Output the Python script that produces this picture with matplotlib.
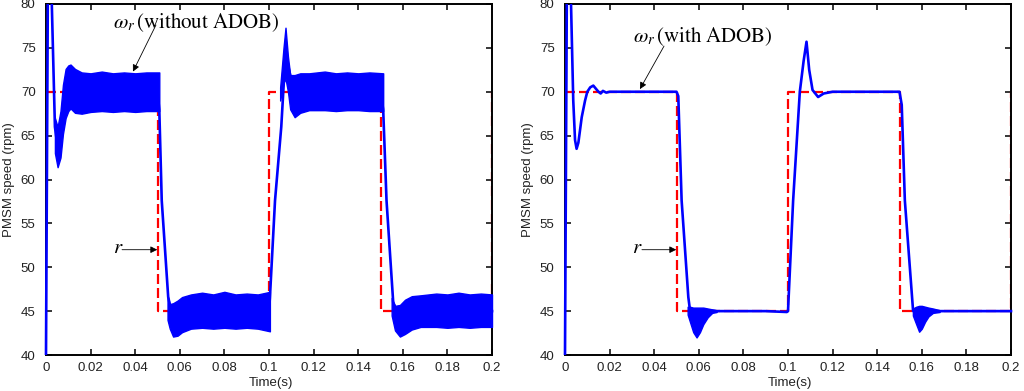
import matplotlib
matplotlib.use('Agg')
import matplotlib.pyplot as plt
from matplotlib.patches import Rectangle

plt.rcParams['font.family'] = ['Liberation Sans', 'DejaVu Sans']
plt.rcParams['mathtext.fontset'] = 'stix'

# ---------------- data ----------------
# reference speed r (step changes)
ref_t = [0, 0.05, 0.1, 0.15, 0.2]
ref_v = [70, 45, 70, 45, 70]

x_ticks = [0, 0.02, 0.04, 0.06, 0.08, 0.1, 0.12, 0.14, 0.16, 0.18, 0.2]
y_ticks = [40, 45, 50, 55, 60, 65, 70, 75, 80]

# left panel: omega_r without ADOB (centre trace)
a_t = [0, 0.0008, 0.0016, 0.0026, 0.0040, 0.0052, 0.0065, 0.0076, 0.0088, 0.0100,
       0.0130, 0.0200, 0.0500, 0.0508, 0.0519, 0.0548, 0.0570, 0.0650, 0.1000,
       0.1004, 0.1027, 0.1055, 0.1074, 0.1095, 0.1115, 0.1180, 0.1500, 0.1512,
       0.1527, 0.1557, 0.1587, 0.1650, 0.2000]
a_v = [40, 80, 90, 80, 66, 63.7, 65.0, 68.0, 69.8, 70.4,
       70.1, 69.9, 69.9, 68.0, 57.6, 46.6, 44.0, 45.0, 45.0,
       46.5, 57.6, 66.0, 74.4, 71.9, 69.5, 70.0, 70.0, 68.0,
       57.6, 46.0, 44.0, 45.0, 45.0]

# left panel: ripple envelopes (upper / lower)
a1_t = [0.0040, 0.0052, 0.0065, 0.0076, 0.0088, 0.0100, 0.0110, 0.0130, 0.0160,
        0.0200, 0.0250, 0.0300, 0.0350, 0.0400, 0.0450, 0.0508]
a1_hi = [67.0, 66.0, 67.8, 70.8, 72.6, 73.0, 73.1, 72.6, 72.2,
         72.1, 72.3, 72.1, 72.2, 72.1, 72.2, 72.2]
a1_lo = [63.0, 61.4, 62.5, 65.2, 67.0, 67.8, 68.1, 67.6, 67.5,
         67.7, 67.8, 67.7, 67.8, 67.7, 67.8, 67.8]

a2_t = [0.0545, 0.0555, 0.0570, 0.0590, 0.0610, 0.0650, 0.0700, 0.0750, 0.0800,
        0.0850, 0.0900, 0.0950, 0.1004]
a2_hi = [46.8, 45.8, 45.9, 46.2, 46.6, 46.9, 47.1, 46.9, 47.2, 46.9, 47.0, 46.9, 47.2]
a2_lo = [44.0, 43.0, 42.1, 42.2, 42.6, 43.0, 43.1, 43.0, 43.1, 43.0, 43.1, 43.0, 42.7]

a3_t = [0.1050, 0.1065, 0.1074, 0.1085, 0.1095, 0.1115, 0.1140, 0.1180, 0.1250,
        0.1300, 0.1350, 0.1400, 0.1450, 0.1512]
a3_hi = [70.5, 75.0, 77.3, 74.0, 71.9, 71.9, 72.1, 72.1, 72.3,
         72.1, 72.2, 72.1, 72.2, 72.1]
a3_lo = [69.0, 71.0, 71.5, 70.0, 68.0, 67.1, 67.6, 67.9, 67.9,
         67.8, 67.9, 67.9, 67.8, 67.8]

a4_t = [0.1550, 0.1565, 0.1587, 0.1610, 0.1640, 0.1680, 0.1750, 0.1800, 0.1850,
        0.1900, 0.1950, 0.2000]
a4_hi = [46.5, 45.6, 45.7, 46.3, 46.7, 46.8, 47.0, 46.9, 47.1, 46.9, 47.0, 46.9]
a4_lo = [44.5, 42.8, 42.1, 42.4, 42.9, 43.2, 43.2, 43.1, 43.2, 43.1, 43.2, 43.2]

# right panel: omega_r with ADOB (centre trace)
b_t = [0, 0.0008, 0.0015, 0.0027, 0.0037, 0.0045, 0.0052, 0.0060, 0.0075, 0.0090,
       0.0100, 0.0113, 0.0127, 0.0140, 0.0150, 0.0160, 0.0170, 0.0185, 0.0200,
       0.0300, 0.0400, 0.0500, 0.0508, 0.0523, 0.0553, 0.0560, 0.0680, 0.0800,
       0.0900, 0.0995, 0.1000, 0.1023, 0.1053, 0.1070, 0.1083, 0.1095, 0.1110,
       0.1135, 0.1160, 0.1200, 0.1300, 0.1400, 0.1500, 0.1510, 0.1524, 0.1561,
       0.1570, 0.1680, 0.1800, 0.1900, 0.2000]
b_v = [40, 80, 88, 80, 69.0, 64.5, 63.5, 64.2, 67.1, 69.0,
       70.0, 70.5, 70.7, 70.3, 70.0, 69.8, 70.1, 69.9, 70.0,
       70.0, 70.0, 70.0, 69.5, 57.6, 46.6, 45.2, 45.0, 45.0,
       45.0, 44.9, 45.0, 57.6, 70.0, 73.5, 75.7, 72.5, 70.2,
       69.4, 69.8, 70.0, 70.0, 70.0, 70.0, 68.5, 57.6, 45.0,
       45.2, 45.0, 45.0, 45.0, 45.0]

# right panel: ripple envelopes after the down steps
b1_t = [0.0550, 0.0560, 0.0575, 0.0590, 0.0605, 0.0620, 0.0640, 0.0660, 0.0680]
b1_hi = [45.5, 45.5, 45.4, 45.4, 45.4, 45.4, 45.3, 45.2, 45.1]
b1_lo = [44.6, 43.8, 42.6, 42.0, 42.6, 43.5, 44.3, 44.8, 44.9]

b2_t = [0.1560, 0.1575, 0.1588, 0.1600, 0.1615, 0.1630, 0.1650, 0.1680]
b2_hi = [45.3, 45.5, 45.6, 45.6, 45.5, 45.4, 45.3, 45.1]
b2_lo = [44.5, 43.5, 42.65, 43.0, 43.8, 44.4, 44.8, 44.9]

# ---------------- figure ----------------
fig = plt.figure(figsize=(10.24, 3.91), dpi=100)
ax1 = fig.add_axes([46 / 1024, 36 / 391, 446 / 1024, 351 / 391])
ax2 = fig.add_axes([565 / 1024, 36 / 391, 446 / 1024, 351 / 391])

BLUE = '#0000ff'
RED = '#ff0000'


def draw(ax, t, v, bands, label, txt_xy, arr_from, arr_to, r_xy, r_from, r_to):
    clip = Rectangle((-0.006, 0), 1.012, 1, transform=ax.transAxes)
    ax.plot(ref_t, ref_v, color=RED, lw=1.6, ls=(0, (4.5, 1.8)),
            drawstyle='steps-post', zorder=2)
    for bt, hi, lo in bands:
        fb = ax.fill_between(bt, lo, hi, color=BLUE, lw=1.0, zorder=3)
        fb.set_clip_path(clip)
    ln, = ax.plot(t, v, color=BLUE, lw=1.9, zorder=3)
    ln.set_clip_path(clip)

    ax.set_xlim(0, 0.2)
    ax.set_ylim(40, 80)
    ax.set_xticks(x_ticks)
    ax.set_xticklabels(['%g' % x for x in x_ticks])
    ax.set_yticks(y_ticks)
    ax.tick_params(direction='in', top=True, right=True, length=4, width=1.1,
                   labelsize=9.5, labelcolor='#222222')
    ax.tick_params(axis='x', pad=5)
    ax.tick_params(axis='y', pad=7.5)
    for s in ax.spines.values():
        s.set_linewidth(1.4)
    ax.set_ylabel('PMSM speed (rpm)', fontsize=9.5, color='#222222')
    ax.yaxis.set_label_coords(-0.07, 0.5)
    ax.set_xlabel('Time(s)', fontsize=9.5, color='#222222')
    ax.xaxis.set_label_coords(0.505, -0.063)

    ax.text(txt_xy[0], txt_xy[1], label, fontsize=15, ha='left', va='baseline')
    ax.annotate('', xy=arr_to, xytext=arr_from,
                arrowprops=dict(arrowstyle='-|>', color='black', lw=0.6,
                                mutation_scale=10, shrinkA=0, shrinkB=0))
    ax.text(r_xy[0], r_xy[1], r'$r$', fontsize=15, ha='left', va='baseline')
    ax.annotate('', xy=r_to, xytext=r_from,
                arrowprops=dict(arrowstyle='-|>', color='black', lw=0.6,
                                mutation_scale=10, shrinkA=0, shrinkB=0))


draw(ax1, a_t, a_v,
     [(a1_t, a1_hi, a1_lo), (a2_t, a2_hi, a2_lo), (a3_t, a3_hi, a3_lo), (a4_t, a4_hi, a4_lo)],
     r'$\omega_r\,\left(\mathrm{without\ ADOB}\right)$',
     (0.030, 77.2), (0.0493, 77.6), (0.0390, 72.3),
     (0.0300, 51.6), (0.0341, 52.0), (0.0499, 52.0))

draw(ax2, b_t, b_v,
     [(b1_t, b1_hi, b1_lo), (b2_t, b2_hi, b2_lo)],
     r'$\omega_r\,\left(\mathrm{with\ ADOB}\right)$',
     (0.0305, 75.7), (0.0444, 75.2), (0.0336, 70.3),
     (0.0300, 51.6), (0.0345, 52.0), (0.0499, 52.0))

fig.savefig('out.png', dpi=100)
